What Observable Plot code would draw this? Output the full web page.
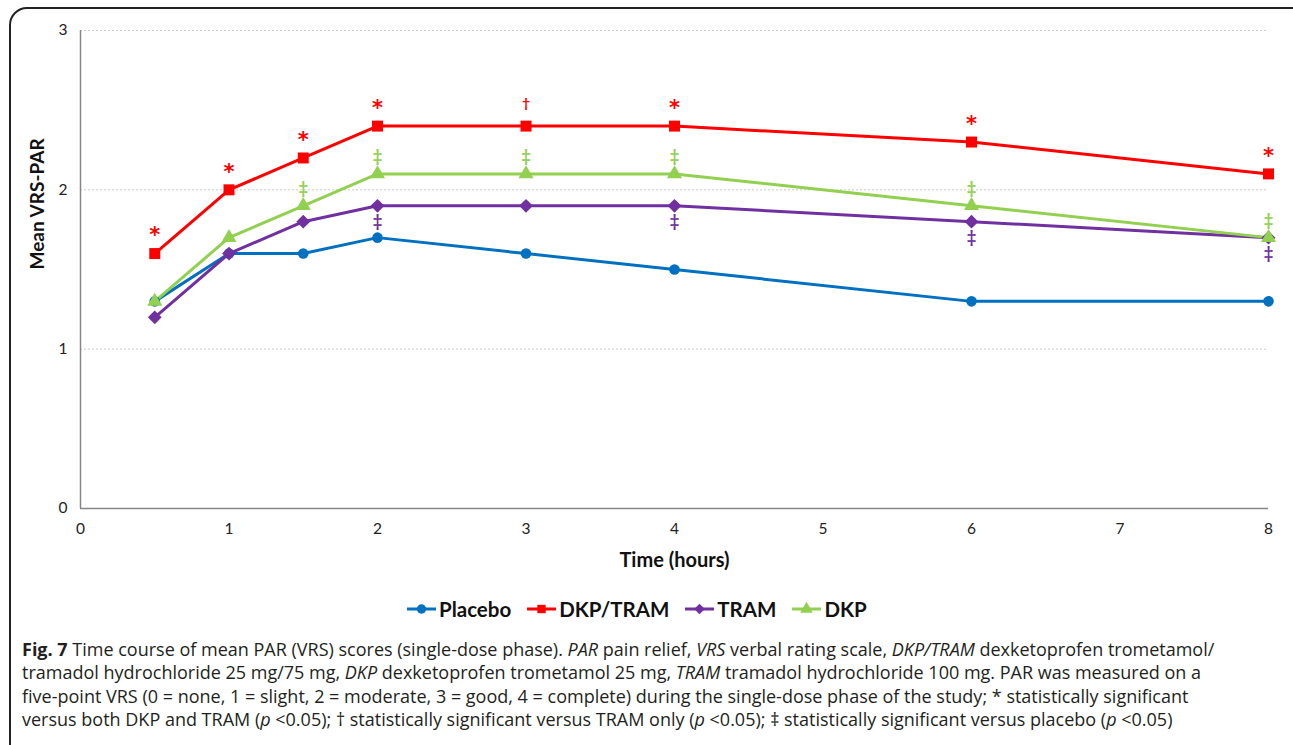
<!DOCTYPE html>
<html>
<head>
<meta charset="utf-8">
<script src="https://cdn.jsdelivr.net/npm/d3@7"></script>
<script src="https://cdn.jsdelivr.net/npm/@observablehq/plot@0.6"></script>
<style>
  html, body { margin: 0; padding: 0; background: #fff; width: 1293px; height: 745px; overflow: hidden; position: relative; }
  #box { position: absolute; left: 9px; top: 7px; width: 1310px; height: 770px; border: 2px solid #222; border-radius: 18px; box-sizing: border-box; }
  #chart { position: absolute; left: 0; top: 0; }
  #legend { position: absolute; left: 407px; top: 597px; display: flex; gap: 16px; font-family: Lato, "Open Sans", sans-serif; font-weight: bold; font-size: 20.5px; color: #111; align-items: center; }
  #legend .item { display: flex; align-items: center; }
  #legend svg { margin-right: 3px; }
  #caption { position: absolute; left: 22px; top: 638px; font-family: "Open Sans", "Noto Sans", sans-serif; font-size: 18px; line-height: 23.4px; color: #231f20; white-space: nowrap; }
</style>
</head>
<body>
<div id="box"></div>
<div id="chart"></div>
<div id="legend"></div>
<div id="caption"><b>Fig. 7</b> Time course of mean PAR (VRS) scores (single-dose phase). <i>PAR</i> pain relief, <i>VRS</i> verbal rating scale, <i>DKP/TRAM</i> dexketoprofen trometamol/<br>tramadol hydrochloride 25 mg/75 mg, <i>DKP</i> dexketoprofen trometamol 25 mg, <i>TRAM</i> tramadol hydrochloride 100 mg. PAR was measured on a<br>five-point VRS (0 = none, 1 = slight, 2 = moderate, 3 = good, 4 = complete) during the single-dose phase of the study; * statistically significant<br>versus both DKP and TRAM (<i>p</i> &lt;0.05); † statistically significant versus TRAM only (<i>p</i> &lt;0.05); ‡ statistically significant versus placebo (<i>p</i> &lt;0.05)</div>
<script>
// ---- data ----
const times = [0.5, 1, 1.5, 2, 3, 4, 6, 8];
const seriesNames = ["Placebo", "DKP/TRAM", "TRAM", "DKP"];
const placebo = [1.3, 1.6, 1.6, 1.7, 1.6, 1.5, 1.3, 1.3];
const dkpTram = [1.6, 2.0, 2.2, 2.4, 2.4, 2.4, 2.3, 2.1];
const tram    = [1.2, 1.6, 1.8, 1.9, 1.9, 1.9, 1.8, 1.7];
const dkp     = [1.3, 1.7, 1.9, 2.1, 2.1, 2.1, 1.9, 1.7];
const dkpTramMarks = ["*", "*", "*", "*", "†", "*", "*", "*"];
const dkpMarks     = ["", "", "‡", "‡", "‡", "‡", "‡", "‡"];
const tramMarks    = ["", "", "", "‡", "", "‡", "‡", "‡"];
const xTicks = [0, 1, 2, 3, 4, 5, 6, 7, 8];
const yTicks = [0, 1, 2, 3];

const colors  = ["#0070C0", "#FF0000", "#7030A0", "#92D050"];
const symbols = ["circle", "square", "diamond2", "triangle"];
const d3symbols = [d3.symbolCircle, d3.symbolSquare, d3.symbolDiamond2 || d3.symbolDiamond, d3.symbolTriangle];
const sizes   = [5.3, 6.2, 6.2, 5.6];

const valuesBy = [placebo, dkpTram, tram, dkp];
const rows = [];
seriesNames.forEach((s, i) => times.forEach((t, j) => rows.push({series: s, time: t, value: valuesBy[i][j]})));

const starRows = [], daggerRows = [], dkpRows = [], tramRows = [];
times.forEach((t, j) => {
  if (dkpTramMarks[j] === "*") starRows.push({time: t, value: dkpTram[j], label: "*"});
  if (dkpTramMarks[j] === "†") daggerRows.push({time: t, value: dkpTram[j], label: "†"});
  if (dkpMarks[j]) dkpRows.push({time: t, value: dkp[j], label: dkpMarks[j]});
  if (tramMarks[j]) tramRows.push({time: t, value: tram[j], label: tramMarks[j]});
});

const dotMarks = seriesNames.map((s, i) =>
  Plot.dot(rows.filter(d => d.series === s), {x: "time", y: "value", symbol: () => symbols[i], fill: colors[i], r: sizes[i]})
);

const chart = Plot.plot({
  width: 1293,
  height: 580,
  marginLeft: 80,
  marginRight: 25,
  marginTop: 30,
  marginBottom: 72,
  style: {fontFamily: "Lato, 'Open Sans', sans-serif", fontSize: "15px", color: "#222", background: "transparent"},
  x: {domain: [0, 8]},
  y: {domain: [0, 3]},
  symbol: {type: "identity"},
  marks: [
    Plot.ruleY([1, 2, 3], {stroke: "#c8c8c8", strokeDasharray: "2,2"}),
    Plot.ruleX([0], {stroke: "#868686", strokeWidth: 1.5}),
    Plot.ruleY([0], {stroke: "#868686", strokeWidth: 1.5}),
    Plot.axisX({ticks: xTicks, tickSize: 0, tickPadding: 14, label: null, fontSize: 15.5, tickFormat: d3.format("d")}),
    Plot.axisY({ticks: yTicks, tickSize: 0, tickPadding: 13, label: null, fontSize: 15.5, tickFormat: d3.format("d")}),
    ...seriesNames.map((s, i) => Plot.line(rows.filter(d => d.series === s), {x: "time", y: "value", stroke: colors[i], strokeWidth: 3})),
    ...dotMarks,
    Plot.text(starRows, {x: "time", y: "value", text: "label", fill: colors[1], dy: -18, fontSize: 21, fontWeight: "bold", fontFamily: "'DejaVu Sans'"}),
    Plot.text(daggerRows, {x: "time", y: "value", text: "label", fill: colors[1], dy: -23, fontSize: 14, fontWeight: "bold"}),
    Plot.text(dkpRows, {x: "time", y: "value", text: "label", fill: colors[3], dy: -17, fontSize: 16.5, fontWeight: "bold"}),
    Plot.text(tramRows, {x: "time", y: "value", text: "label", fill: colors[2], dy: 16, fontSize: 16.5, fontWeight: "bold"}),
    Plot.text(["Time (hours)"], {frameAnchor: "bottom", dy: 58, fontSize: 20, fontWeight: "bold", fill: "#111"}),
    Plot.text(["Mean VRS-PAR"], {frameAnchor: "left", dx: -43, rotate: -90, fontSize: 19, fontWeight: "bold", fill: "#111"})
  ]
});
document.getElementById("chart").appendChild(chart);

// legend
const legend = d3.select("#legend");
seriesNames.forEach((s, i) => {
  const item = legend.append("div").attr("class", "item");
  const sw = item.append("svg").attr("width", 29).attr("height", 16);
  sw.append("line").attr("x1", 0).attr("x2", 29).attr("y1", 8).attr("y2", 8).attr("stroke", colors[i]).attr("stroke-width", 3);
  sw.append("path").attr("transform", "translate(14.5,8)")
    .attr("d", d3.symbol(d3symbols[i], 70)())
    .attr("fill", colors[i]);
  item.append("span").text(s);
});
</script>
</body>
</html>
